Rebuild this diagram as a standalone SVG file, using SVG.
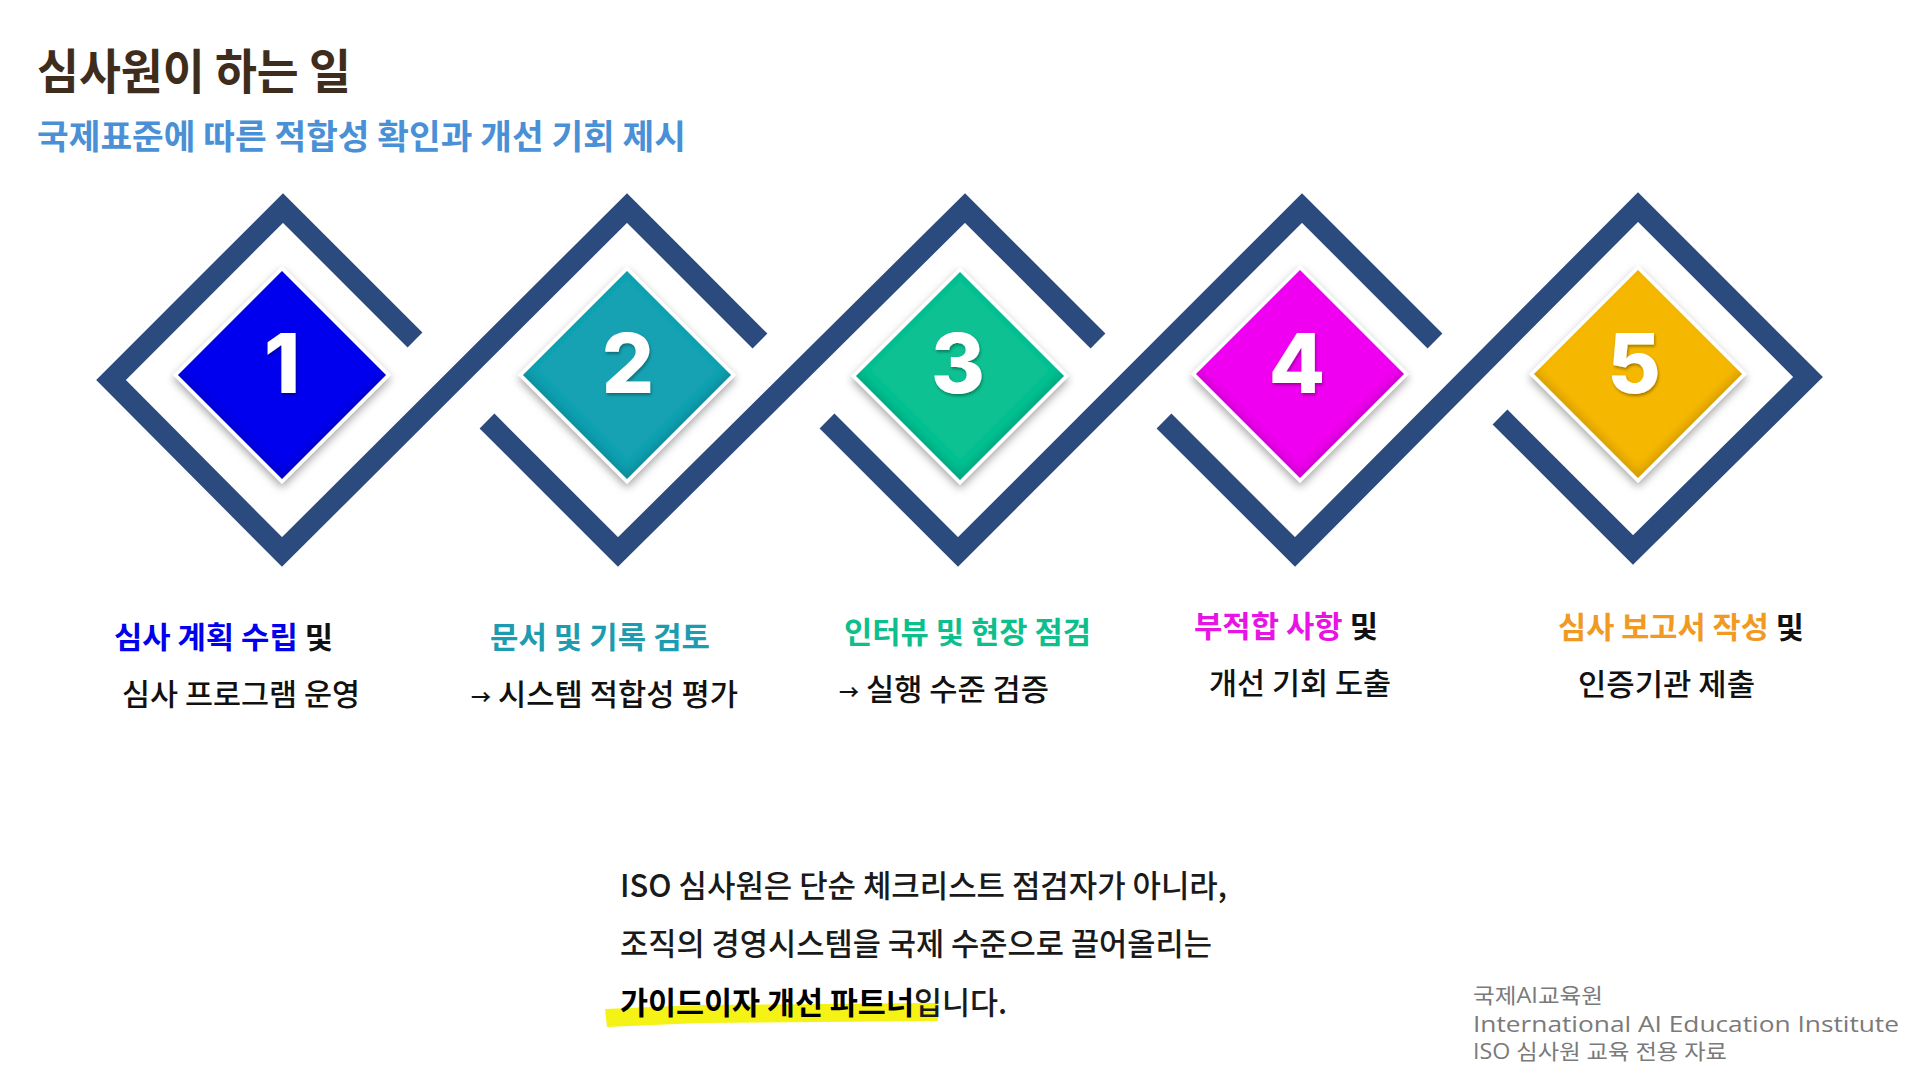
<svg xmlns="http://www.w3.org/2000/svg" width="1920" height="1080" viewBox="0 0 1920 1080">
<defs>
<style>
.kr{font-family:"Noto Sans CJK KR","Noto Sans",sans-serif;}
.title{font-size:48px;font-weight:700;fill:#3E2C1C;}
.sub{font-size:34px;font-weight:700;fill:#4A90D6;}
.frame{fill:none;stroke:#2B4A7E;stroke-width:21;stroke-linejoin:miter;stroke-linecap:butt;}
.halo{fill:#ffffff;}
.num{font-family:Inter,"Open Sans",sans-serif;font-size:82px;font-weight:800;fill:#ffffff;text-anchor:middle;}
.l1{font-size:30px;font-weight:700;}
.l2{font-size:30px;font-weight:500;fill:#111111;}
.arr{font-size:20px;font-weight:700;}
.blk{fill:#111111;}
.body{font-size:31px;font-weight:500;fill:#1a1a1a;}
.foot{font-family:"Open Sans","Noto Sans CJK KR",sans-serif;font-size:21px;fill:#7a7a7a;}
</style>
<filter id="drop" x="-20%" y="-20%" width="140%" height="140%">
<feDropShadow dx="0" dy="4" stdDeviation="4" flood-color="#000" flood-opacity="0.35"/>
</filter>
<filter id="bevel" x="-10%" y="-10%" width="120%" height="120%">
<feGaussianBlur in="SourceAlpha" stdDeviation="4" result="b"/>
<feOffset in="b" dy="-6" result="o"/>
<feComposite in="SourceAlpha" in2="o" operator="out" result="inv"/>
<feFlood flood-color="#000" flood-opacity="0.28"/>
<feComposite in2="inv" operator="in" result="sh"/>
<feMerge><feMergeNode in="SourceGraphic"/><feMergeNode in="sh"/></feMerge>
</filter>
<filter id="numsh" x="-20%" y="-20%" width="140%" height="140%">
<feDropShadow dx="1" dy="2" stdDeviation="1.5" flood-color="#000" flood-opacity="0.35"/>
</filter>
</defs>
<rect width="1920" height="1080" fill="#ffffff"/>

<g id="header" class="kr">
<text class="title" x="37" y="89" textLength="314" lengthAdjust="spacingAndGlyphs">심사원이 하는 일</text>
<text class="sub" x="37" y="149" textLength="649" lengthAdjust="spacingAndGlyphs">국제표준에 따른 적합성 확인과 개선 기회 제시</text>
</g>

<g id="connectors">
<path class="frame" d="M415,340 L283,208 L111,380 L282,552 L627,208 L760,341"/>
<path class="frame" d="M487,421 L618,552 L965,208 L1098,341"/>
<path class="frame" d="M827,421 L958,552 L1302,208 L1435,341"/>
<path class="frame" d="M1164,421 L1295,552 L1638,207 L1808,377 L1633,550 L1500,417"/>
</g>

<g id="node1">
<polygon class="halo" filter="url(#drop)" points="282,266 391,375 282,484 173,375"/>
<polygon fill="#0000EE" filter="url(#bevel)" points="282,271 386,375 282,479 178,375"/>
<text class="num" x="282" y="393" filter="url(#numsh)">1</text>
<text class="kr l1" x="114" y="648" textLength="219" lengthAdjust="spacingAndGlyphs"><tspan fill="#0000EE">심사 계획 수립</tspan><tspan class="blk"> 및</tspan></text>
<text class="kr l2" x="122" y="705" textLength="238" lengthAdjust="spacingAndGlyphs">심사 프로그램 운영</text>
</g>

<g id="node2">
<polygon class="halo" filter="url(#drop)" points="627,266 736,375 627,484 518,375"/>
<polygon fill="#17A2B2" filter="url(#bevel)" points="627,271 731,375 627,479 523,375"/>
<text class="num" x="628" y="393" filter="url(#numsh)">2</text>
<text class="kr l1" x="490" y="648" textLength="220" lengthAdjust="spacingAndGlyphs" fill="#1E9CAF">문서 및 기록 검토</text>
<text class="kr l2" x="471" y="705"><tspan class="arr">→</tspan><tspan x="498" textLength="240" lengthAdjust="spacingAndGlyphs">시스템 적합성 평가</tspan></text>
</g>

<g id="node3">
<polygon class="halo" filter="url(#drop)" points="960,267 1069,376 960,485 851,376"/>
<polygon fill="#08C192" filter="url(#bevel)" points="960,272 1064,376 960,480 856,376"/>
<text class="num" x="958" y="393" filter="url(#numsh)">3</text>
<text class="kr l1" x="844" y="643" textLength="247" lengthAdjust="spacingAndGlyphs" fill="#0DBF8C">인터뷰 및 현장 점검</text>
<text class="kr l2" x="839" y="700"><tspan class="arr">→</tspan><tspan x="866" textLength="183" lengthAdjust="spacingAndGlyphs">실행 수준 검증</tspan></text>
</g>

<g id="node4">
<polygon class="halo" filter="url(#drop)" points="1300,265 1409,374 1300,483 1191,374"/>
<polygon fill="#F000F0" filter="url(#bevel)" points="1300,270 1404,374 1300,478 1196,374"/>
<text class="num" x="1297" y="393" filter="url(#numsh)">4</text>
<text class="kr l1" x="1194" y="637" textLength="184" lengthAdjust="spacingAndGlyphs"><tspan fill="#E814E4">부적합 사항</tspan><tspan class="blk"> 및</tspan></text>
<text class="kr l2" x="1209" y="694" textLength="182" lengthAdjust="spacingAndGlyphs">개선 기회 도출</text>
</g>

<g id="node5">
<polygon class="halo" filter="url(#drop)" points="1638,265 1747,374 1638,483 1529,374"/>
<polygon fill="#F6B700" filter="url(#bevel)" points="1638,270 1742,374 1638,478 1534,374"/>
<text class="num" x="1634" y="393" filter="url(#numsh)">5</text>
<text class="kr l1" x="1558" y="638" textLength="246" lengthAdjust="spacingAndGlyphs"><tspan fill="#F09A24">심사 보고서 작성</tspan><tspan class="blk"> 및</tspan></text>
<text class="kr l2" x="1578" y="695" textLength="177" lengthAdjust="spacingAndGlyphs">인증기관 제출</text>
</g>

<g id="summary" class="kr">
<path d="M605,1009 L700,1005 L820,1004 L937,1003 L938,1021 L820,1022 L700,1023 L607,1027 Z" fill="#F5F216"/>
<text class="body" x="620" y="897" textLength="607" lengthAdjust="spacingAndGlyphs">ISO 심사원은 단순 체크리스트 점검자가 아니라,</text>
<text class="body" x="620" y="955" textLength="592" lengthAdjust="spacingAndGlyphs">조직의 경영시스템을 국제 수준으로 끌어올리는</text>
<text class="body" x="620" y="1014" textLength="387" lengthAdjust="spacingAndGlyphs"><tspan font-weight="700" fill="#000">가이드이자 개선 파트너</tspan><tspan>입니다.</tspan></text>
</g>

<g id="footer">
<text class="foot" x="1473" y="1003" textLength="130" lengthAdjust="spacingAndGlyphs">국제AI교육원</text>
<text class="foot" x="1473" y="1032" textLength="426" lengthAdjust="spacingAndGlyphs">International AI Education Institute</text>
<text class="foot" x="1473" y="1059" textLength="254" lengthAdjust="spacingAndGlyphs">ISO 심사원 교육 전용 자료</text>
</g>
</svg>
